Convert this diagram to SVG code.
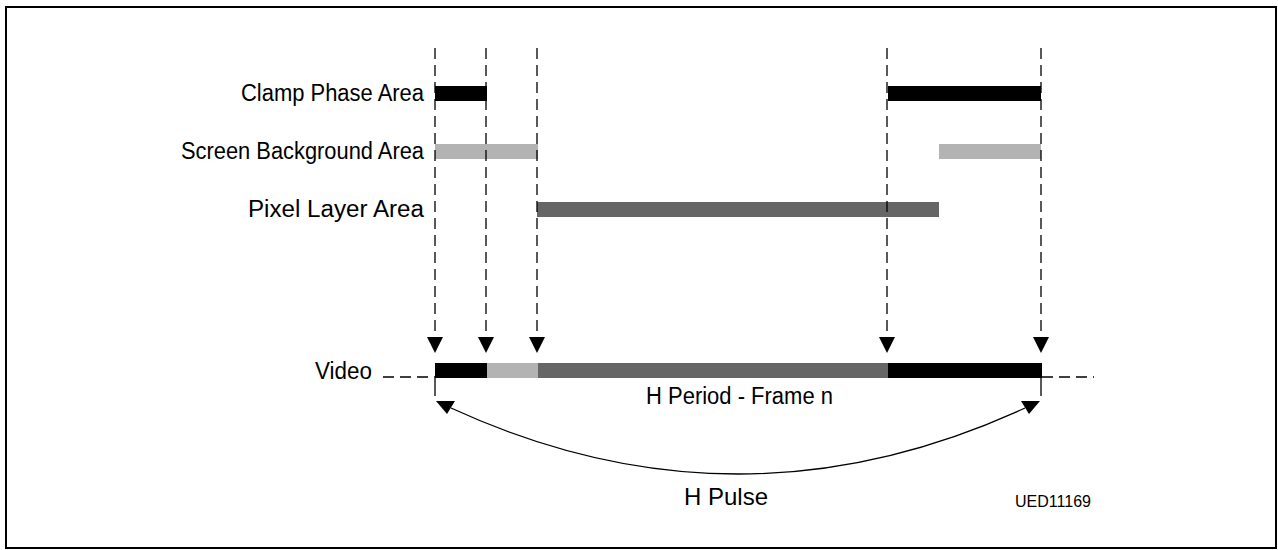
<svg xmlns="http://www.w3.org/2000/svg" width="1278" height="550" viewBox="0 0 1278 550">
<style>
.lbl{font-family:"Liberation Sans",Arial,sans-serif;font-size:23px;fill:#000}
.dash{stroke:#000;stroke-width:1.3;stroke-dasharray:11,6;fill:none}
.tick{stroke:#000;stroke-width:1.3;fill:none}
.head{fill:#000}
</style>
<rect x="6" y="7" width="1270" height="541" fill="#fff" stroke="#000" stroke-width="2"/>
<g id="labels">
<text class="lbl" x="424" y="101" text-anchor="end" textLength="183" lengthAdjust="spacingAndGlyphs">Clamp Phase Area</text>
<text class="lbl" x="424" y="159" text-anchor="end" textLength="243" lengthAdjust="spacingAndGlyphs">Screen Background Area</text>
<text class="lbl" x="424" y="217" text-anchor="end" textLength="176" lengthAdjust="spacingAndGlyphs">Pixel Layer Area</text>
</g>
<g id="bars">
<rect x="435" y="86" width="52" height="15" fill="#000"/>
<rect x="888" y="86" width="153" height="15" fill="#000"/>
<rect x="435" y="144" width="103" height="15" fill="#b3b3b3"/>
<rect x="939" y="144" width="102" height="15" fill="#b3b3b3"/>
<rect x="537" y="202" width="402" height="15" fill="#666"/>
</g>
<g id="connectors">
<line class="dash" x1="435" y1="48" x2="435" y2="337"/>
<line class="dash" x1="486" y1="48" x2="486" y2="337"/>
<line class="dash" x1="537" y1="48" x2="537" y2="337"/>
<line class="dash" x1="887" y1="48" x2="887" y2="337"/>
<line class="dash" x1="1041" y1="48" x2="1041" y2="337"/>
<polygon class="head" points="427,337 443,337 435,353"/>
<polygon class="head" points="478,337 494,337 486,353"/>
<polygon class="head" points="529,337 545,337 537,353"/>
<polygon class="head" points="879,337 895,337 887,353"/>
<polygon class="head" points="1033,337 1049,337 1041,353"/>
<line class="dash" x1="383" y1="377" x2="435" y2="377"/>
<line class="dash" x1="1042" y1="377" x2="1094" y2="377"/>
<line class="tick" x1="435" y1="378" x2="435" y2="396"/>
<line class="tick" x1="1041" y1="378" x2="1041" y2="396"/>
<path d="M451,408 Q738,540 1025,408" fill="none" stroke="#000" stroke-width="1.3"/>
<polygon class="head" points="436,401 455,401 447,414"/>
<polygon class="head" points="1040,401 1021,401 1029,414"/>
</g>
<g id="video">
<text class="lbl" x="372" y="379" text-anchor="end" textLength="57" lengthAdjust="spacingAndGlyphs">Video</text>
<rect x="435" y="363" width="52" height="15" fill="#000"/>
<rect x="487" y="363" width="51" height="15" fill="#b3b3b3"/>
<rect x="538" y="363" width="350" height="15" fill="#666"/>
<rect x="888" y="363" width="154" height="15" fill="#000"/>
<text class="lbl" x="646" y="404" textLength="187" lengthAdjust="spacingAndGlyphs">H Period - Frame n</text>
</g>
<g id="pulse">
<text class="lbl" x="684" y="505" style="font-size:24px">H Pulse</text>
</g>
<text class="lbl" x="1015" y="507" style="font-size:17px" textLength="76" lengthAdjust="spacingAndGlyphs">UED11169</text>
</svg>
